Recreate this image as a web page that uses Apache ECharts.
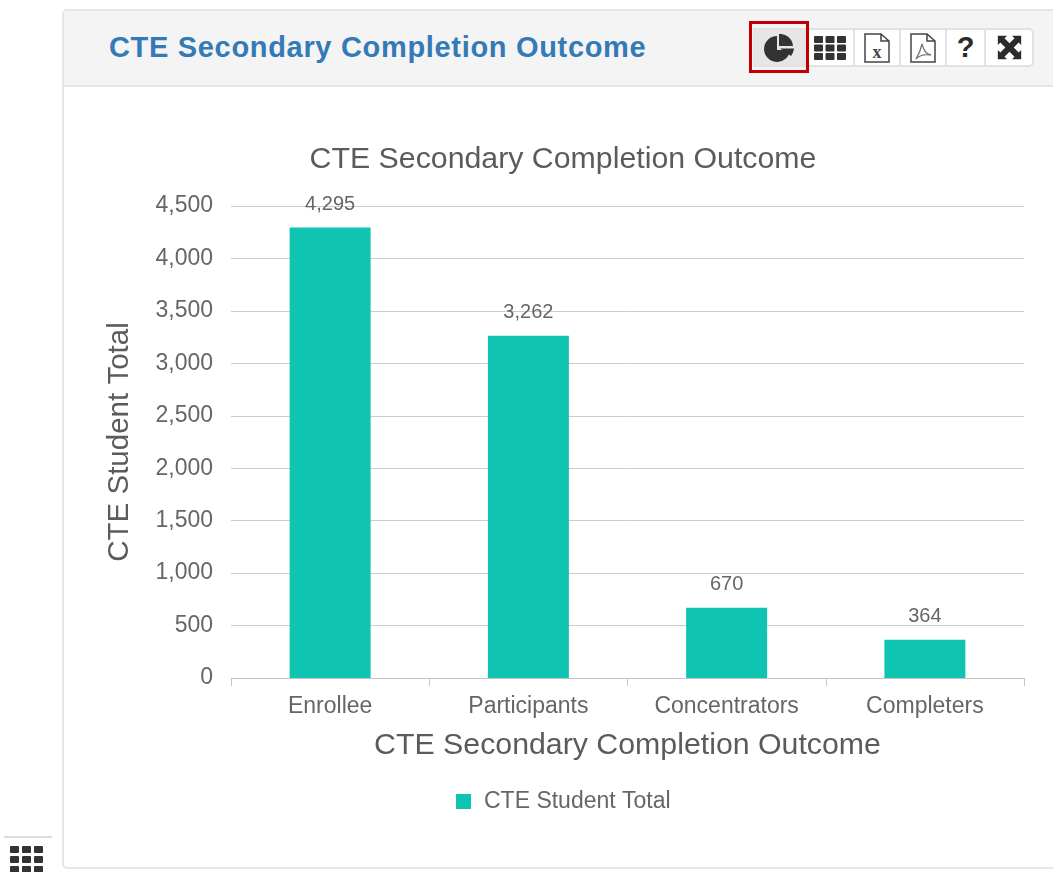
<!DOCTYPE html>
<html>
<head>
<meta charset="utf-8">
<title>CTE Secondary Completion Outcome</title>
<script src="https://cdn.jsdelivr.net/npm/echarts@6/dist/echarts.min.js"></script>
<style>
  html, body { margin: 0; padding: 0; width: 1053px; height: 872px; overflow: hidden; background: #fff; font-family: "Liberation Sans", Arial, sans-serif; }
  .panel { position: absolute; left: 62px; top: 9px; width: 1000px; height: 860px; border: 2px solid #e6e6e6; border-radius: 5px; box-sizing: border-box; }
  .panel-head { position: absolute; left: 0; top: 0; right: 0; height: 76px; background: #f4f4f4; border-bottom: 2px solid #e6e6e6; box-sizing: border-box; }
  .panel-title { position: absolute; left: 109px; top: 29px; font-size: 29px; letter-spacing: 0.68px; line-height: 36px; font-weight: bold; color: #337ab7; white-space: nowrap; }
  .tools { position: absolute; left: 753px; top: 28px; height: 39px; display: flex; }
  .tool { box-sizing: border-box; height: 39px; background: #fff; border: 2px solid #e2e2e2; border-left-width: 0; display: flex; align-items: center; justify-content: center; color: #333; }
  .focus { position: absolute; left: 749px; top: 21px; width: 60px; height: 52px; box-sizing: border-box; border: 3px solid #c00000; }
  #chart { position: absolute; left: 0; top: 0; width: 1053px; height: 872px; }
  .side-line { position: absolute; left: 4px; top: 836px; width: 48px; height: 2px; background: #dcdcdc; }
  .side-icon { position: absolute; left: 10px; top: 846px; }
</style>
</head>
<body>
<div class="panel"><div class="panel-head"></div></div>
<div class="panel-title">CTE Secondary Completion Outcome</div>
<div class="tools">
  <div class="tool" style="width:53px;background:#e6e6e6;">
    <svg width="30" height="28" viewBox="0 0 30 28"><path d="M13 2 A13 13 0 1 0 26 16 L13 16 Z" fill="#333"/><path d="M15 0 A13 13 0 0 1 29 12 L15 12 Z" fill="#333"/><path d="M16 14.5 L30 14.5 A13 13 0 0 1 27 22 Z" fill="#333"/></svg>
  </div>
  <div class="tool" style="width:49px;">
    <svg width="32" height="24" viewBox="0 0 32 24" fill="#333"><rect x="0" y="0" width="9" height="7" rx="1"/><rect x="11.5" y="0" width="9" height="7" rx="1"/><rect x="23" y="0" width="9" height="7" rx="1"/><rect x="0" y="8.5" width="9" height="7" rx="1"/><rect x="11.5" y="8.5" width="9" height="7" rx="1"/><rect x="23" y="8.5" width="9" height="7" rx="1"/><rect x="0" y="17" width="9" height="7" rx="1"/><rect x="11.5" y="17" width="9" height="7" rx="1"/><rect x="23" y="17" width="9" height="7" rx="1"/></svg>
  </div>
  <div class="tool" style="width:46px;">
    <svg width="26" height="30" viewBox="0 0 26 30"><path d="M1 1 H17 L25 8 V29 H1 Z M17 1 V8 H25" fill="#fff" stroke="#444" stroke-width="1.5"/><text x="13" y="25" text-anchor="middle" font-family="Liberation Serif" font-weight="bold" font-size="18" fill="#444">x</text></svg>
  </div>
  <div class="tool" style="width:46px;">
    <svg width="26" height="30" viewBox="0 0 26 30"><path d="M1 1 H17 L25 8 V29 H1 Z M17 1 V8 H25" fill="#fff" stroke="#444" stroke-width="1.5"/><path d="M12 11 C14 18 16 21 21 22 C15 21 10 22 6 26 C9 21 11 16 12 11 Z" fill="none" stroke="#777" stroke-width="1.3"/></svg>
  </div>
  <div class="tool" style="width:39px;font-size:29px;font-weight:bold;color:#2b2b2b;">?</div>
  <div class="tool" style="width:48px;border-radius:0 5px 5px 0;">
    <svg width="27" height="25" viewBox="0 0 30 30" fill="#2b2b2b"><path d="M1 1 H12 L9 4 L15 10 L21 4 L18 1 H29 V12 L26 9 L20 15 L26 21 L29 18 V29 H18 L21 26 L15 20 L9 26 L12 29 H1 V18 L4 21 L10 15 L4 9 L1 12 Z"/></svg>
  </div>
</div>
<div class="focus"></div>
<div class="side-line"></div>
<svg class="side-icon" width="34" height="26" viewBox="0 0 34 26" fill="#333"><rect x="0" y="0" width="9" height="7" rx="1"/><rect x="12" y="0" width="9" height="7" rx="1"/><rect x="24" y="0" width="9" height="7" rx="1"/><rect x="0" y="10" width="9" height="7" rx="1"/><rect x="12" y="10" width="9" height="7" rx="1"/><rect x="24" y="10" width="9" height="7" rx="1"/><rect x="0" y="20" width="9" height="7" rx="1"/><rect x="12" y="20" width="9" height="7" rx="1"/><rect x="24" y="20" width="9" height="7" rx="1"/></svg>
<div id="chart"></div>
<script>
const chartTitle = 'CTE Secondary Completion Outcome';
const seriesName = 'CTE Student Total';
const categories = ['Enrollee', 'Participants', 'Concentrators', 'Completers'];
const studentTotals = [4295, 3262, 670, 364];
const barColor = '#0fc5b1';
const fontFamily = '"Liberation Sans", Arial, sans-serif';

const chart = echarts.init(document.getElementById('chart'), null, { renderer: 'canvas' });

function fmt(v) {
  return Number(v).toLocaleString('en-US');
}

chart.setOption({
  animation: false,
  backgroundColor: 'transparent',
  textStyle: { fontFamily: fontFamily },
  title: {
    text: chartTitle,
    left: 558,
    top: 140,
    textAlign: 'center',
    textStyle: { fontSize: 30.3, fontWeight: 'normal', color: '#5b5b5b', fontFamily: fontFamily },
  },
  legend: {
    data: [seriesName],
    left: 451,
    top: 785,
    itemWidth: 15,
    itemHeight: 15,
    icon: 'rect',
    textStyle: { fontSize: 23, color: '#666', fontFamily: fontFamily, padding: [0, 0, 0, 8] },
  },
  grid: { left: 231, right: 29, top: 206, bottom: 194 },
  xAxis: {
    type: 'category',
    data: categories,
    name: chartTitle,
    nameLocation: 'middle',
    nameGap: 53,
    nameTextStyle: { fontSize: 30.3, color: '#5b5b5b' },
    axisLine: { lineStyle: { color: '#c4c4c4', width: 1 } },
    axisTick: { show: true, length: 8, lineStyle: { color: '#c4c4c4' } },
    axisLabel: { fontSize: 23, color: '#666', margin: 17 },
  },
  yAxis: {
    type: 'value',
    min: 0,
    max: 4500,
    interval: 500,
    name: seriesName,
    nameLocation: 'middle',
    nameGap: 96,
    nameTextStyle: { fontSize: 29.5, color: '#5b5b5b' },
    axisLine: { show: false },
    axisTick: { show: false },
    axisLabel: { fontSize: 23, color: '#666', margin: 18, formatter: fmt },
    splitLine: { lineStyle: { color: '#cccccc', width: 1 } },
  },
  series: [
    {
      name: seriesName,
      type: 'bar',
      data: studentTotals,
      barWidth: 81,
      itemStyle: { color: barColor },
      label: {
        show: true,
        position: 'top',
        distance: 13,
        fontSize: 20,
        color: '#666',
        formatter: (p) => fmt(p.value),
      },
    },
  ],
});
</script>
</body>
</html>
